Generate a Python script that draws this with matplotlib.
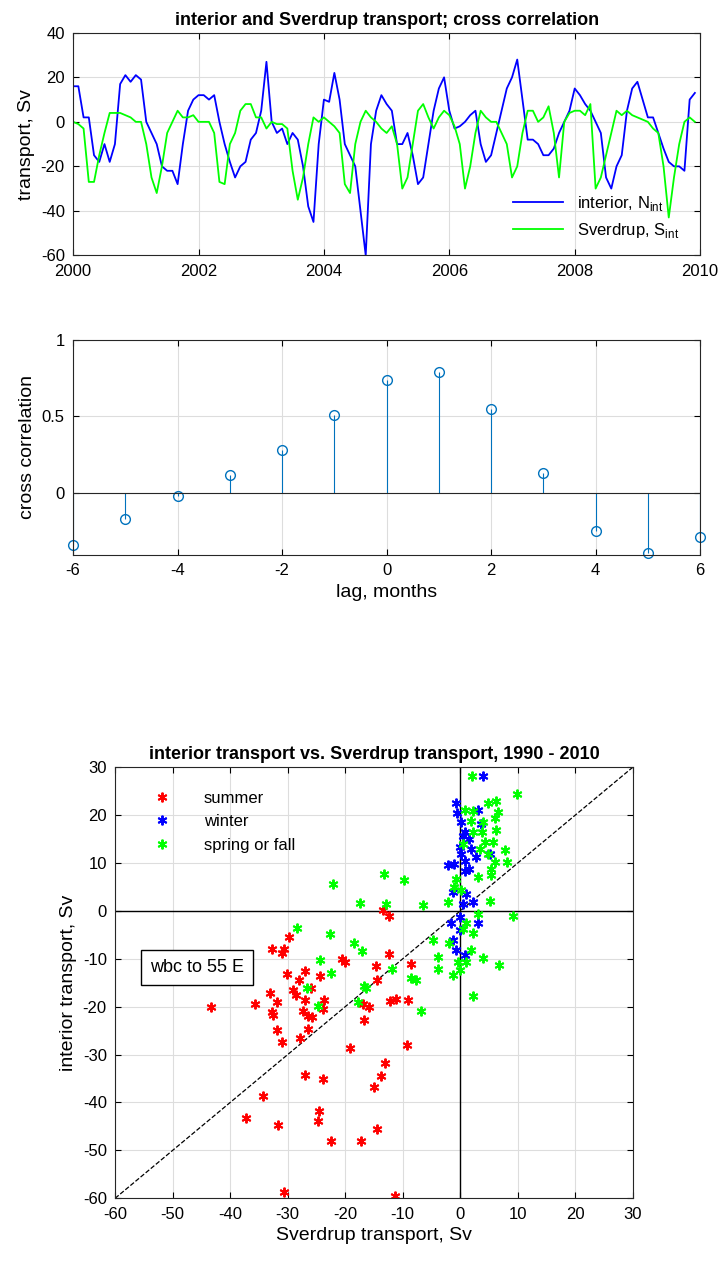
import numpy as np
import matplotlib
matplotlib.use("Agg")
import matplotlib.pyplot as plt

plt.rcParams['font.family'] = ['Liberation Sans', 'DejaVu Sans']
plt.rcParams['axes.unicode_minus'] = False

# monthly transports, from late 1999 onward
interior = [15, 12, 16, 16, 2, 2, -15, -18, -10, -18, -10, 17,
            21, 18, 21, 19, 0, -5, -10, -20, -22, -22, -28, -10,
            5, 10, 12, 12, 10, 12, 0, -10, -18, -25, -20, -18,
            -8, -5, 5, 27, 0, -5, -3, -10, -5, -8, -20, -38,
            -45, -10, 10, 9, 22, 10, -10, -15, -20, -40, -60, -10,
            5, 12, 8, 5, -10, -10, -5, -15, -28, -25, -10, 5,
            15, 20, 5, -3, -2, 0, 3, 5, -10, -18, -15, -5,
            5, 15, 20, 28, 10, -8, -8, -10, -15, -15, -12, -5,
            0, 5, 15, 12, 8, 5, 0, -5, -25, -30, -20, -15,
            5, 15, 18, 10, 2, 2, -5, -12, -18, -20, -20, -22,
            10, 13]
sverdrup = [1, 0, 0, -1, -3, -27, -27, -15, -5, 4, 4, 4,
            3, 2, 0, 0, -10, -25, -32, -20, -5, 0, 5, 2,
            2, 3, 0, 0, 0, -5, -27, -28, -10, -5, 5, 8,
            8, 2, 2, -3, 0, -1, -1, -3, -22, -35, -25, -10,
            2, 0, 2, 0, -2, -5, -28, -32, -10, 0, 5, 2,
            0, -3, -5, -2, -10, -30, -25, -10, 5, 8, 2, -3,
            2, 5, 3, -2, -10, -30, -20, -5, 5, 2, 0, 0,
            -5, -10, -25, -20, -5, 5, 5, 0, 2, 7, -5, -25,
            0, 4, 5, 5, 3, 8, -30, -25, -15, -5, 5, 3,
            5, 3, 2, 1, 0, -3, -5, -20, -43, -25, -10, 0,
            2, 0]
start_year = 2000 - 2 / 12

lags = list(range(-6, 7))
xcorr = [-0.34, -0.17, -0.02, 0.12, 0.28, 0.51, 0.74, 0.79, 0.55, 0.13, -0.25, -0.39, -0.29]

summer = [(-43.4, -20.1), (-35.7, -19.4), (-33.1, -17.2), (-31.9, -19.1), (-32.7, -21.1),
          (-32.5, -21.7), (-31.9, -24.8), (-31, -27.3), (-32.7, -8.0), (-31, -8.7),
          (-30.6, -8.0), (-29.8, -5.4), (-30.2, -13.1), (-28, -14.5), (-27, -12.5),
          (-29, -16.5), (-28.5, -17.5), (-27, -18.7), (-27.3, -20.8), (-26.4, -22),
          (-25.8, -22.1), (-26.4, -24.6), (-27.8, -26.6), (-26, -16), (-24.3, -13.6),
          (-23.6, -18.7), (-23.9, -20.5), (-20.5, -10.1), (-20.1, -10.6), (-16.9, -19.4),
          (-15.9, -20.1), (-16.8, -22.7), (-19.1, -28.6), (-14.6, -11.6), (-14.4, -14.5),
          (-12.3, -8.9), (-13.5, 0.1), (-12.4, -1), (-12.2, -18.8), (-11.2, -18.4),
          (-8.5, -11.1), (-9, -18.7), (-9.2, -28), (-13, -31.8), (-13.8, -34.5),
          (-15, -36.7), (-27, -34.3), (-23.9, -35), (-34.3, -38.6), (-37.3, -43.3),
          (-31.6, -44.7), (-24.6, -41.7), (-24.8, -43.8), (-22.5, -48), (-17.3, -48.1),
          (-14.5, -45.5), (-30.6, -58.7), (-11.3, -59.6)]
winter = [(3.9, 28.1), (-0.7, 22.6), (-0.6, 20.4), (3.1, 21.1), (0.2, 18.5), (3.6, 18.1),
          (0.8, 16.4), (0.4, 15.7), (1.6, 15), (-0.1, 13.3), (1.9, 12.9), (5.1, 11.8),
          (0.2, 11.9), (2.8, 11.2), (0.8, 10.5), (-2.2, 9.5), (-1, 9.7), (1.6, 8.8),
          (0.8, 8.4), (-1.3, 3.9), (1, 3.6), (2.2, 1.9), (0.5, 1.5), (-0.1, -1.2),
          (3.1, -2.5), (-1.6, -2.6), (-0.1, -4), (-1.3, -6.1), (-0.7, -8.2), (0.8, -9.2)]
spring_fall = [(2.1, 28.1), (9.8, 24.4), (4.9, 22.6), (6.3, 23), (0.8, 21.1), (2.2, 20.9),
               (6.6, 20.6), (6, 19.5), (1.9, 18.8), (4, 18.5), (6.3, 17), (2.2, 16.4),
               (3.7, 16.4), (0.5, 14), (4.3, 14.3), (5.7, 14.3), (7.8, 12.7), (3.4, 12.9),
               (4.9, 11.9), (8.1, 10.2), (6, 10.2), (5.4, 8.8), (3.1, 7.1), (5.4, 7.4),
               (-0.7, 6.7), (-1, 5), (0.2, 4.3), (-13.3, 7.8), (-9.8, 6.4), (-22.2, 5.7),
               (-17.5, 1.7), (-12.9, 1.4), (-6.4, 1.2), (-2.2, 1.9), (5.1, 2.1), (3.1, -0.6),
               (9.2, -1), (1, -2.6), (2.2, -4.7), (0.5, -3.7), (-4.8, -6.1), (-1.9, -6.8),
               (1.9, -8.2), (-3.9, -9.6), (4, -9.9), (-0.4, -10.6), (1, -10.6), (6.7, -11.3),
               (-3.9, -12.2), (-0.1, -12.3), (-1.3, -13.4), (-28.4, -3.5), (-22.6, -4.8),
               (-18.4, -6.6), (-17.1, -8.3), (-24.3, -10.2), (-22.5, -12.9), (-11.9, -12.2),
               (-8.6, -14), (-7.7, -14.4), (-16.8, -15.6), (-16.4, -16.1), (-26.7, -16.1),
               (-17.7, -19.1), (-24.7, -19.9), (-6.8, -21), (2.3, -17.7)]


def matlab_style(ax):
    ax.grid(True, color='#dddddd', linewidth=0.8)
    ax.set_axisbelow(True)
    ax.tick_params(direction='in', labelsize=12, top=True, right=True, length=4, pad=6)
    for s in ax.spines.values():
        s.set_color('#262626')
        s.set_linewidth(0.8)


fig = plt.figure(figsize=(7.24, 12.64), dpi=100)

# time series
ax1 = fig.add_axes([0.101, 0.798, 0.866, 0.176])
t = start_year + np.arange(len(interior)) / 12
ax1.plot(t, interior, color='#0000ff', lw=1.3, label='interior, N$_\\mathregular{int}$')
ax1.plot(t, sverdrup, color='#00ff00', lw=1.3, label='Sverdrup, S$_\\mathregular{int}$')
ax1.set_xlim(2000, 2010)
ax1.set_ylim(-60, 40)
ax1.set_xticks(range(2000, 2011, 2))
ax1.set_yticks(range(-60, 41, 20))
ax1.set_ylabel('transport, Sv', fontsize=14)
ax1.set_title('interior and Sverdrup transport; cross correlation', fontsize=13, fontweight='bold')
matlab_style(ax1)
ax1.legend(loc='lower right', bbox_to_anchor=(0.99, 0.0), frameon=False, fontsize=12,
           handlelength=3)

# cross correlation
ax2 = fig.add_axes([0.101, 0.561, 0.866, 0.170])
ml, sl, bl = ax2.stem(lags, xcorr, linefmt='-', markerfmt='o', basefmt='k-')
plt.setp(sl, color='#0072bd', linewidth=0.8)
plt.setp(ml, markerfacecolor='none', markeredgecolor='#0072bd', markersize=7, clip_on=False)
plt.setp(bl, color='#262626', linewidth=0.8)
ax2.set_xlim(-6, 6)
ax2.set_ylim(-0.405, 1)
ax2.set_xticks(range(-6, 7, 2))
ax2.set_yticks([0, 0.5, 1])
ax2.set_yticklabels(['0', '0.5', '1'])
ax2.set_xlabel('lag, months', fontsize=14)
ax2.set_ylabel('cross correlation', fontsize=14)
matlab_style(ax2)

# scatter
ax3 = fig.add_axes([0.159, 0.052, 0.715, 0.341])
ax3.plot([-60, 30], [-60, 30], 'k--', lw=0.9)
ax3.axhline(0, color='k', lw=1)
ax3.axvline(0, color='k', lw=1)
for pts, col, lab in [(summer, '#ff0000', 'summer'), (winter, '#0000ff', 'winter'),
                      (spring_fall, '#00ff00', 'spring or fall')]:
    xs, ys = zip(*pts)
    ax3.plot(xs, ys, linestyle='none', marker=(6, 2, 0), color=col, markersize=7,
             markeredgewidth=1.4, label=lab)
ax3.set_xlim(-60, 30)
ax3.set_ylim(-60, 30)
ax3.set_xticks(range(-60, 31, 10))
ax3.set_yticks(range(-60, 31, 10))
ax3.set_xlabel('Sverdrup transport, Sv', fontsize=14)
ax3.set_ylabel('interior transport, Sv', fontsize=14)
ax3.set_title('interior transport vs. Sverdrup transport, 1990 - 2010', fontsize=13,
              fontweight='bold')
matlab_style(ax3)
ax3.legend(loc='upper left', bbox_to_anchor=(0.03, 0.98), frameon=False, fontsize=12,
           handletextpad=1.5)
ax3.text(-54, -11.8, 'wbc to 55 E', fontsize=13, va='center',
         bbox=dict(boxstyle='square,pad=0.5', facecolor='white', edgecolor='k', lw=1))

fig.savefig('out.png', dpi=100)
